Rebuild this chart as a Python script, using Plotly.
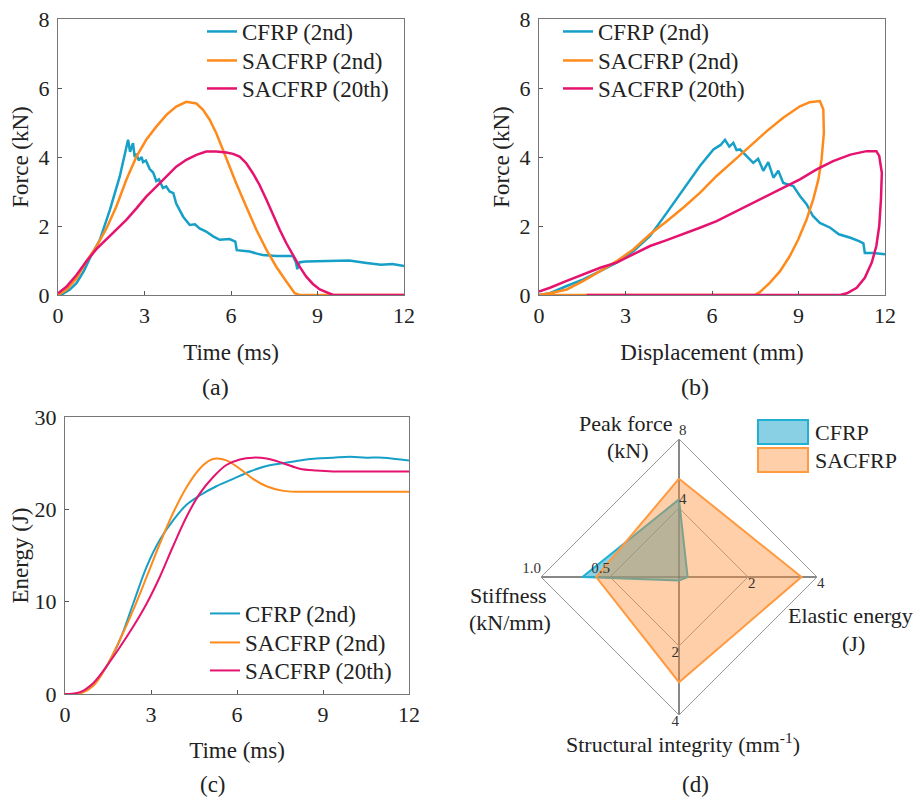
import plotly.graph_objects as go

FONT = "'Liberation Serif', 'Times New Roman', 'DejaVu Serif', serif"
C_CFRP = "#169fc7"
C_SA2 = "#ff8a1c"
C_SA20 = "#e5136f"

names = ["CFRP (2nd)", "SACFRP (2nd)", "SACFRP (20th)"]

# ---------- (a) Force vs time ----------
a_cfrp_t = [0, 0.1, 0.4, 0.64, 0.9, 1.1, 1.45, 1.8, 2.14, 2.3, 2.37, 2.43, 2.5, 2.54, 2.6, 2.66, 2.72, 2.8, 2.9,
            2.95, 3.05, 3.18, 3.3, 3.41, 3.5, 3.64, 3.75, 3.87, 4.0, 4.1, 4.34, 4.57, 4.75, 4.91, 5.14, 5.38,
            5.61, 5.95, 6.15, 6.2, 6.4, 6.65, 6.9, 7.1, 7.57, 8.15, 8.25, 8.3, 8.38, 8.6, 8.96, 9.54, 10.1,
            10.7, 11.2, 11.6, 12]
a_cfrp_f = [0, 0, 0.15, 0.34, 0.7, 1.06, 1.6, 2.47, 3.43, 4.0, 4.3, 4.5, 4.15, 4.25, 4.4, 4.0, 4.1, 3.9, 4.0,
            3.85, 3.9, 3.65, 3.55, 3.3, 3.35, 3.1, 3.15, 3.0, 2.95, 2.65, 2.27, 2.03, 2.05, 1.93, 1.84, 1.7,
            1.6, 1.62, 1.55, 1.3, 1.28, 1.26, 1.2, 1.16, 1.13, 1.13, 0.95, 0.75, 0.95, 0.97, 0.98, 0.99, 1.0,
            0.93, 0.88, 0.9, 0.84]
a_sa2_t = [0, 0.29, 0.64, 0.98, 1.33, 1.68, 2.02, 2.37, 2.72, 3.06, 3.41, 3.76, 4.1, 4.45, 4.8, 5.03, 5.26,
           5.49, 5.72, 5.95, 6.18, 6.53, 6.88, 7.23, 7.57, 7.92, 8.21, 8.38, 9.0, 10, 11, 12]
a_sa2_f = [0, 0.15, 0.48, 0.97, 1.4, 1.93, 2.56, 3.34, 4.01, 4.5, 4.88, 5.22, 5.46, 5.6, 5.55, 5.37, 5.08,
           4.69, 4.21, 3.72, 3.24, 2.56, 1.89, 1.31, 0.82, 0.39, 0.05, 0, 0, 0, 0, 0]
a_sa20_t = [0, 0.29, 0.64, 0.98, 1.33, 1.68, 2.02, 2.37, 2.72, 3.06, 3.41, 3.76, 4.1, 4.45, 4.8, 5.14, 5.49,
            5.84, 6.07, 6.3, 6.53, 6.76, 6.99, 7.23, 7.46, 7.69, 7.92, 8.15, 8.38, 8.61, 8.84, 9.08, 9.31,
            9.54, 10.5, 11.5, 12]
a_sa20_f = [0.05, 0.24, 0.58, 0.97, 1.33, 1.62, 1.89, 2.18, 2.51, 2.85, 3.14, 3.43, 3.72, 3.92, 4.06, 4.16,
            4.16, 4.13, 4.09, 4.01, 3.82, 3.53, 3.19, 2.76, 2.32, 1.89, 1.5, 1.16, 0.82, 0.53, 0.32, 0.16,
            0.07, 0, 0, 0, 0]

# ---------- (b) Force vs displacement ----------
b_cfrp_d = [0, 0.38, 0.96, 1.54, 2.12, 2.69, 3.27, 3.85, 4.43, 5.0, 5.58, 6.05, 6.3, 6.45, 6.6, 6.74, 6.85,
            6.97, 7.2, 7.43, 7.6, 7.78, 7.95, 8.13, 8.3, 8.47, 8.82, 9.05, 9.28, 9.5, 9.74, 10.1, 10.4, 10.8,
            11.1, 11.25, 11.3, 11.6, 12]
b_cfrp_f = [0, 0.05, 0.26, 0.45, 0.69, 0.94, 1.27, 1.71, 2.38, 3.06, 3.74, 4.22, 4.35, 4.5, 4.3, 4.41, 4.2,
            4.22, 4.03, 3.83, 3.95, 3.6, 3.85, 3.4, 3.6, 3.25, 3.16, 2.87, 2.63, 2.29, 2.09, 1.95, 1.76, 1.66,
            1.56, 1.5, 1.22, 1.22, 1.18]
b_sa2_d = [0, 0.38, 0.96, 1.54, 2.12, 2.69, 3.27, 3.85, 4.43, 5.0, 5.58, 6.16, 6.74, 7.32, 7.9, 8.47, 9.05,
           9.39, 9.74, 9.86, 9.88, 9.8, 9.69, 9.51, 9.28, 8.99, 8.7, 8.36, 8.01, 7.67, 7.49, 4.0, 1.65, 0]
b_sa2_f = [0, 0.05, 0.16, 0.41, 0.69, 0.98, 1.32, 1.76, 2.14, 2.53, 2.96, 3.45, 3.88, 4.31, 4.75, 5.14, 5.47,
           5.59, 5.62, 5.38, 4.7, 3.93, 3.35, 2.77, 2.19, 1.61, 1.13, 0.69, 0.36, 0.09, 0, 0, 0, 0]
b_sa20_d = [0, 0.38, 0.96, 1.54, 2.12, 2.69, 3.27, 3.85, 4.43, 5.0, 5.58, 6.16, 6.74, 7.32, 7.9, 8.47, 9.05,
            9.63, 10.2, 10.8, 11.36, 11.7, 11.8, 11.89, 11.86, 11.8, 11.7, 11.54, 11.3, 11.02, 10.68, 10.45,
            6.0, 1.65]
b_sa20_f = [0.1, 0.21, 0.41, 0.6, 0.79, 0.94, 1.18, 1.42, 1.59, 1.76, 1.95, 2.14, 2.38, 2.63, 2.87, 3.11, 3.35,
            3.64, 3.88, 4.07, 4.17, 4.17, 4.03, 3.54, 2.77, 2.0, 1.42, 0.94, 0.5, 0.21, 0.05, 0, 0, 0]

# ---------- (c) Energy vs time ----------
c_cfrp_t = [0, 0.52, 0.99, 1.45, 1.92, 2.38, 2.85, 3.31, 3.77, 4.24, 4.7, 5.28, 5.87, 6.45, 7.03, 7.61, 8.19,
            8.77, 9.35, 9.93, 10.51, 11.09, 12]
c_cfrp_e = [0, 0.1, 1.0, 3.0, 5.9, 9.8, 13.8, 16.7, 18.8, 20.5, 21.5, 22.5, 23.3, 24.1, 24.7, 25.0, 25.3,
            25.5, 25.6, 25.7, 25.6, 25.6, 25.3]
c_sa2_t = [0, 0.52, 0.99, 1.45, 1.92, 2.38, 2.85, 3.31, 3.77, 4.24, 4.7, 5.05, 5.28, 5.63, 6.1, 6.56, 7.03,
           7.61, 8.19, 9, 10, 11, 12]
c_sa2_e = [0, 0.05, 0.9, 3.0, 5.9, 9.1, 12.7, 16.3, 19.6, 22.4, 24.4, 25.3, 25.5, 25.3, 24.4, 23.3, 22.5,
           22.0, 21.9, 21.9, 21.9, 21.9, 21.9]
c_sa20_t = [0, 0.52, 0.99, 1.45, 1.92, 2.38, 2.85, 3.31, 3.77, 4.24, 4.7, 5.17, 5.63, 6.1, 6.56, 7.03, 7.61,
            8.19, 8.77, 9.35, 10, 11, 12]
c_sa20_e = [0, 0.2, 1.2, 3.0, 5.1, 7.3, 9.8, 12.7, 16.0, 19.2, 21.7, 23.5, 24.8, 25.4, 25.6, 25.5, 25.0,
            24.4, 24.2, 24.1, 24.1, 24.1, 24.1]

# ---------- (d) radar ----------
radar_axes = ["Peak force", "Elastic energy", "Structural integrity", "Stiffness"]
radar_max = [8, 4, 4, 1.0]
radar_cfrp = [4.5, 0.25, 0.1, 0.7]
radar_sacfrp = [5.7, 3.55, 3.05, 0.6]
radar_names = ["CFRP", "SACFRP"]
radar_ticks = {
    "Peak force": (["0", "4", "8"], [0, 0.5, 1.0], "top right"),
    "Elastic energy": (["0", "2", "4"], [0, 0.5, 1.0], "bottom right"),
    "Structural integrity": (["0", "2", "4"], [0, 0.5, 1.0], "bottom left"),
    "Stiffness": (["0.00", "0.5", "1.0"], [0, 0.5, 1.0], "top left"),
}

# the page body has an 8 px margin: the figure is drawn 8 px in from the top-left corner
OFF = 8
W, H = 921 - OFF, 797 - OFF
def fx(px):
    return (px - OFF) / W
def fy(py):
    return (H - (py - OFF)) / H
def px_x(a, b):
    return [fx(a), fx(b)]
def px_y(top, bottom):
    return [fy(bottom), fy(top)]

fig = go.Figure()

# one legend per entry so the entries sit at the reference spacing
legend_slots = {}   # legend id -> (x_px, item centre y_px)
leg_counter = [0]

def add_lines(xs, ys, xa, ya, leg_x, leg_ys, shape="linear", width=2.5):
    for x, y, n, c, ly in zip(xs, ys, names, [C_CFRP, C_SA2, C_SA20], leg_ys):
        leg_counter[0] += 1
        lid = "legend" if leg_counter[0] == 1 else f"legend{leg_counter[0]}"
        legend_slots[lid] = (leg_x, ly)
        fig.add_trace(go.Scatter(x=x, y=y, name=n, mode="lines", xaxis=xa, yaxis=ya, legend=lid,
                                 line=dict(color=c, width=width, shape=shape)))

add_lines([a_cfrp_t, a_sa2_t, a_sa20_t], [a_cfrp_f, a_sa2_f, a_sa20_f], "x", "y", 202, [33, 62, 90])
add_lines([b_cfrp_d, b_sa2_d, b_sa20_d], [b_cfrp_f, b_sa2_f, b_sa20_f], "x2", "y2", 558, [33, 62, 90])
add_lines([c_cfrp_t, c_sa2_t, c_sa20_t], [c_cfrp_e, c_sa2_e, c_sa20_e], "x3", "y3", 205, [615, 644, 672],
          shape="spline", width=2)

def norm(vals):
    r = [v / m for v, m in zip(vals, radar_max)]
    return r + r[:1]

theta = radar_axes + radar_axes[:1]
RADAR_FILL = ["rgba(40,170,205,0.55)", "rgba(252,140,50,0.42)"]
RADAR_LINE = ["#22b0d2", "#ff9a40"]
for vals, n, fc, lc in zip([radar_cfrp, radar_sacfrp], radar_names, RADAR_FILL, RADAR_LINE):
    fig.add_trace(go.Scatterpolar(r=norm(vals), theta=theta, name=n, mode="lines", fill="toself",
                                  fillcolor=fc, line=dict(color=lc, width=2), showlegend=False))
for ax, (labels, rs, pos) in radar_ticks.items():
    fig.add_trace(go.Scatterpolar(r=rs, theta=[ax] * len(rs), mode="text", text=labels, textposition=pos,
                                  textfont=dict(family=FONT, size=15, color="#333"), showlegend=False,
                                  hoverinfo="skip"))

axis_common = dict(showline=True, mirror=True, linecolor="#777", linewidth=1, ticks="inside", ticklen=4,
                   tickcolor="#555", showgrid=False, zeroline=False, automargin=False,
                   ticklabeloverflow="allow",
                   tickfont=dict(family=FONT, size=22, color="#222"),
                   title_font=dict(family=FONT, size=23, color="#222"))

layout_legends = {}
for lid, (lx, ly) in legend_slots.items():
    layout_legends[lid] = dict(x=fx(lx), y=fy(ly - 23), xanchor="left", yanchor="top",
                               bgcolor="rgba(0,0,0,0)", itemwidth=30,
                               font=dict(family=FONT, size=23, color="#222"))

fig.update_layout(
    width=W, height=H, margin=dict(l=0, r=0, t=0, b=0, autoexpand=False),
    paper_bgcolor="white", plot_bgcolor="white",
    font=dict(family=FONT, size=22, color="#222"),
    xaxis=dict(domain=px_x(58, 404), range=[0, 12], tickvals=[0, 3, 6, 9, 12], anchor="y",
               title=dict(text="Time (ms)", standoff=16), ticklabelstandoff=1, **axis_common),
    yaxis=dict(domain=px_y(19, 295), range=[0, 8], tickvals=[0, 2, 4, 6, 8], anchor="x",
               title=dict(text="Force (kN)", standoff=3), ticklabelstandoff=3, **axis_common),
    xaxis2=dict(domain=px_x(539, 885), range=[0, 12], tickvals=[0, 3, 6, 9, 12], anchor="y2",
                title=dict(text="Displacement (mm)", standoff=16), ticklabelstandoff=1, **axis_common),
    yaxis2=dict(domain=px_y(19, 295), range=[0, 8], tickvals=[0, 2, 4, 6, 8], anchor="x2",
                title=dict(text="Force (kN)", standoff=3), ticklabelstandoff=3, **axis_common),
    xaxis3=dict(domain=px_x(65, 409), range=[0, 12], tickvals=[0, 3, 6, 9, 12], anchor="y3",
                title=dict(text="Time (ms)", standoff=15), ticklabelstandoff=1, **axis_common),
    yaxis3=dict(domain=px_y(417, 694), range=[0, 30], tickvals=[0, 10, 20, 30], anchor="x3",
                title=dict(text="Energy (J)", standoff=1), ticklabelstandoff=3, **axis_common),
    polar=dict(
        domain=dict(x=px_x(541, 817), y=px_y(439, 715)),
        gridshape="linear", bgcolor="white", hole=0,
        radialaxis=dict(range=[0, 1], tickvals=[0.5], showticklabels=False, ticks="", showline=False,
                        gridcolor="#999", gridwidth=1, angle=90),
        angularaxis=dict(categoryarray=radar_axes, rotation=90, direction="clockwise", showticklabels=False,
                         ticks="", gridcolor="#111", gridwidth=1, showline=True, linecolor="#999", linewidth=1),
    ),
    **layout_legends,
)

# radar legend boxes (swatches) + names
swatch_top = [420, 448]
for n, fc, lc, top in zip(radar_names, RADAR_FILL, RADAR_LINE, swatch_top):
    fig.add_shape(type="rect", xref="paper", yref="paper", x0=fx(758), x1=fx(808),
                  y0=fy(top + 24), y1=fy(top), fillcolor=fc, line=dict(color=lc, width=2))
    fig.add_annotation(text=n, x=fx(813), y=fy(top + 12), xref="paper", yref="paper", showarrow=False,
                       xanchor="left", yanchor="middle", font=dict(family=FONT, size=22, color="#222"))

ann = [
    ("(a)", 215, 387, 24), ("(b)", 695, 387, 24), ("(c)", 213, 784, 23), ("(d)", 695, 784, 23),
    ("Peak force", 625, 423, 22), ("(kN)", 628, 450, 22),
    ("Elastic energy", 850, 615, 22), ("(J)", 853, 643, 22),
    ("Stiffness", 508, 595, 22), ("(kN/mm)", 510, 622, 22),
    ("Structural integrity (mm<sup>-1</sup>)", 683, 743, 22),
]
for text, x, y, s in ann:
    fig.add_annotation(text=text, x=fx(x), y=fy(y), xref="paper", yref="paper", showarrow=False,
                       xanchor="center", yanchor="middle", font=dict(family=FONT, size=s, color="#222"))

fig.write_html("out.html")
